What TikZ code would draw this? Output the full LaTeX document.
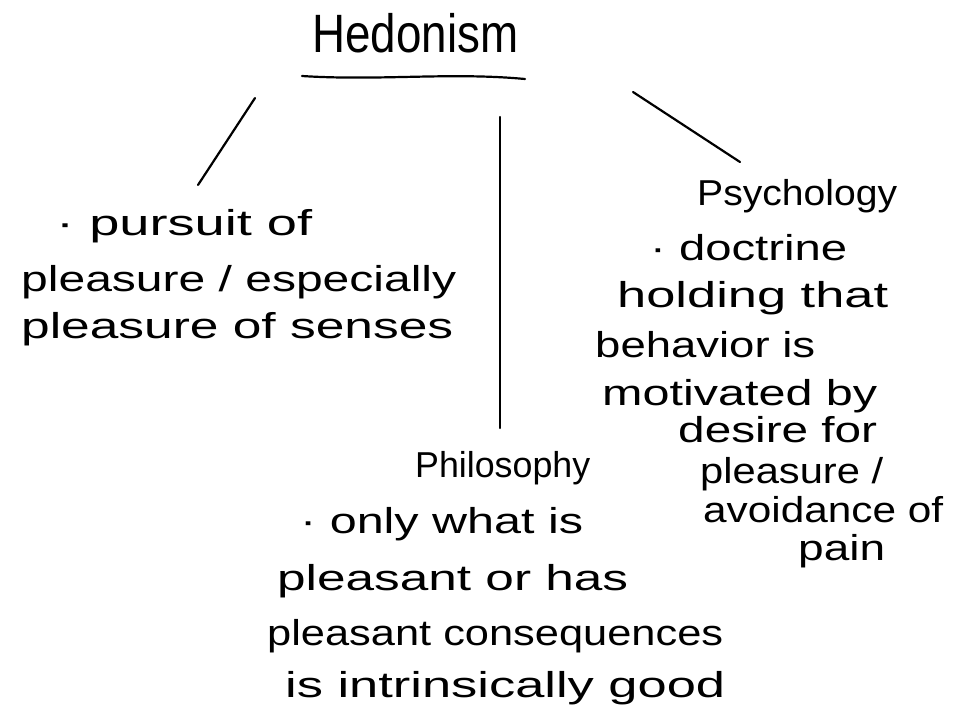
\documentclass[tikz,border=0pt]{standalone}
\usepackage{fontspec}
\setmainfont{Liberation Sans}
\newcommand\fitw[2]{\resizebox{#1}{\height}{#2}}
\begin{document}
\begin{tikzpicture}[x=1pt,y=-1pt,
  hw/.style={anchor=base west,inner sep=0pt,font=\fontsize{36}{40}\selectfont},
  ttl/.style={anchor=base west,inner sep=0pt,font=\fontsize{54}{60}\selectfont},
  stroke/.style={line width=2.2pt,line cap=round}]
\useasboundingbox (0,0) rectangle (955,721);
\fill[white] (0,0) rectangle (955,721);
% title
\node[ttl] (title) at (312,52) {\fitw{206pt}{Hedonism}};
\coordinate (ulA) at (302,76);
\coordinate (ulB) at (525,79);
\draw[stroke] (ulA) .. controls (380,81) and (450,72) .. (ulB);
% connectors
\coordinate (lA) at (255,98);
\coordinate (lB) at (198,185);
\coordinate (mA) at (500,117);
\coordinate (mB) at (500,428);
\coordinate (rA) at (633,92);
\coordinate (rB) at (740,162);
\draw[stroke] (lA) -- (lB);
\draw[stroke] (mA) -- (mB);
\draw[stroke] (rA) -- (rB);
% left branch
\node[hw] (l1) at (56,235) {\fitw{256pt}{· pursuit of}};
\node[hw] (l2) at (21,291) {\fitw{435pt}{pleasure / especially}};
\node[hw] (l3) at (21,338) {\fitw{432pt}{pleasure of senses}};
% right branch
\node[hw] (r1) at (697,205) {\fitw{200pt}{Psychology}};
\node[hw] (r2) at (650,260) {\fitw{197pt}{· doctrine}};
\node[hw] (r3) at (617,307) {\fitw{271pt}{holding that}};
\node[hw] (r4) at (595,357) {\fitw{220pt}{behavior is}};
\node[hw] (r5) at (602,405) {\fitw{275pt}{motivated by}};
\node[hw] (r6) at (678,442) {\fitw{199pt}{desire for}};
\node[hw] (r7) at (700,483) {\fitw{183pt}{pleasure /}};
\node[hw] (r8) at (703,522) {\fitw{240pt}{avoidance of}};
\node[hw] (r9) at (798,560) {\fitw{87pt}{pain}};
% middle branch
\node[hw] (m1) at (415,477) {\fitw{175pt}{Philosophy}};
\node[hw] (m2) at (300,533) {\fitw{283pt}{· only what is}};
\node[hw] (m3) at (277,590) {\fitw{351pt}{pleasant or has}};
\node[hw] (m4) at (267,645) {\fitw{456pt}{pleasant consequences}};
\node[hw] (m5) at (285,697) {\fitw{440pt}{is intrinsically good}};
\end{tikzpicture}
\end{document}
